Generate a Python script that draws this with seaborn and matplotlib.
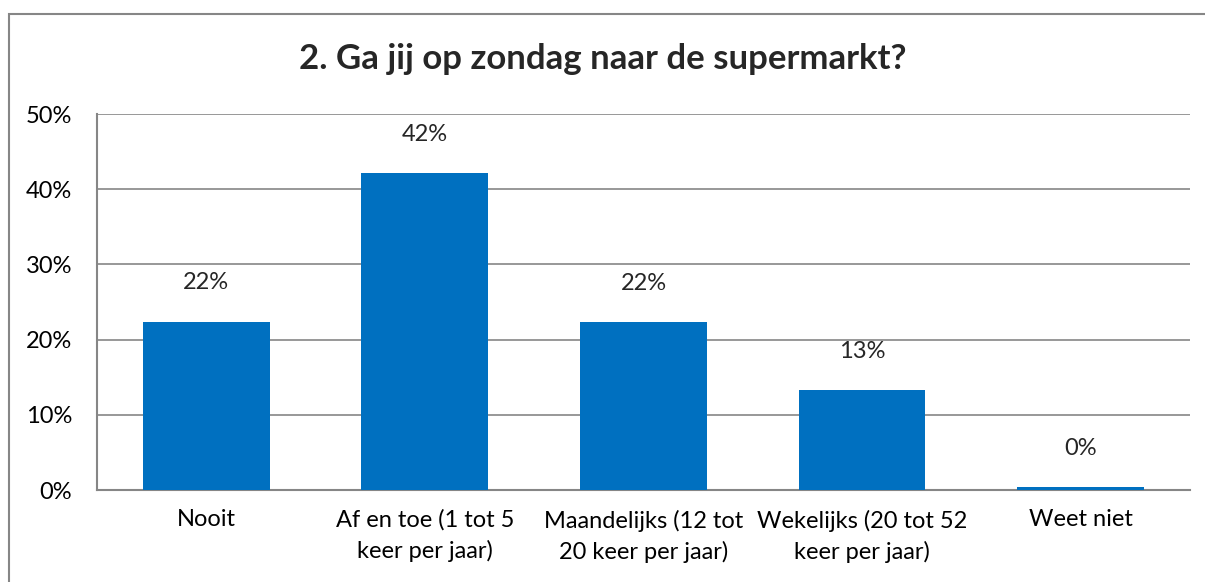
import numpy as np
import matplotlib.pyplot as plt
import matplotlib.patches as mpatches
from matplotlib.ticker import PercentFormatter
import pandas as pd
import seaborn as sns

# Antwoorden en percentages
categorieen = ["Nooit",
               "Af en toe (1 tot 5\nkeer per jaar)",
               "Maandelijks (12 tot\n20 keer per jaar)",
               "Wekelijks (20 tot 52\nkeer per jaar)",
               "Weet niet"]
percentages = [22.4, 42.1, 22.3, 13.3, 0.4]
titel = "2. Ga jij op zondag naar de supermarkt?"

df = pd.DataFrame({"antwoord": categorieen, "pct": percentages})

sns.set_theme(style="white")
plt.rcParams['font.family'] = ['Lato', 'DejaVu Sans']

grijs = "#868686"
fig = plt.figure(figsize=(12.05, 5.82), dpi=100)
ax = fig.add_axes([0.0805, 0.158, 0.907, 0.646])

sns.barplot(data=df, x="antwoord", y="pct", color="#0070C0", saturation=1,
            width=0.58, linewidth=0, ax=ax, zorder=3)

ax.set_ylim(0, 50)
ax.set_yticks(np.arange(0, 51, 10))
ax.yaxis.set_major_formatter(PercentFormatter(decimals=0))
ax.grid(axis="y", color=grijs, linewidth=1.2, zorder=0)
ax.set_axisbelow(True)
for s in ["top", "right"]:
    ax.spines[s].set_visible(False)
for s in ["left", "bottom"]:
    ax.spines[s].set_color(grijs)
    ax.spines[s].set_linewidth(1.5)
ax.tick_params(axis="both", labelsize=17, colors="black", length=0)
ax.tick_params(axis="y", pad=18)
ax.tick_params(axis="x", pad=14)
for lbl in ax.get_xticklabels():
    lbl.set_linespacing(1.5)
ax.set_xlabel("")
ax.set_ylabel("")

# waardelabels
for i, v in enumerate(percentages):
    ax.annotate(f"{round(v):.0f}%", (i, v), xytext=(0, 39), textcoords="offset pixels",
                ha="center", va="center", fontsize=17)

fig.suptitle(titel, x=0.5, y=0.898, va="center", fontsize=25, fontweight="bold")

# kader rond de grafiek
kader = mpatches.Rectangle((9 / 1205, -0.2), 1.2, 1.2 - 14 / 582, transform=fig.transFigure,
                           fill=False, edgecolor=grijs, linewidth=1.5, clip_on=False)
fig.patches.append(kader)

fig.savefig("out.png", dpi=100)
